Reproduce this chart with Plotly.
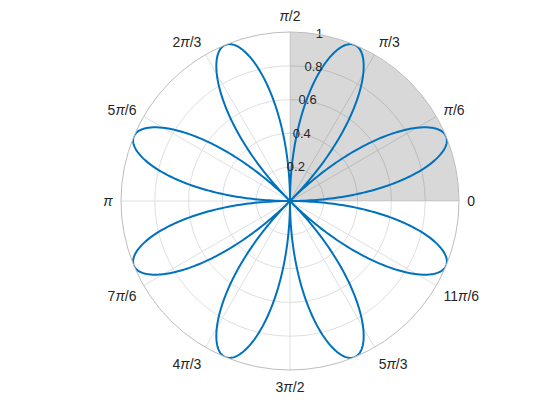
import numpy as np
import plotly.graph_objects as go

# Rose curve r = sin(4*theta), drawn as |r| (same visual petals)
petal_freq = 4
theta_deg = np.linspace(0, 360, 1441)
r_vals = np.abs(np.sin(petal_freq * np.deg2rad(theta_deg)))

angle_ticks = [0, 30, 60, 90, 120, 150, 180, 210, 240, 270, 300, 330]
angle_labels = ["0", "<i>π</i>/6", "<i>π</i>/3", "<i>π</i>/2", "2<i>π</i>/3", "5<i>π</i>/6",
                "<i>π</i>", "7<i>π</i>/6", "4<i>π</i>/3", "3<i>π</i>/2", "5<i>π</i>/3", "11<i>π</i>/6"]
r_ticks = [0.2, 0.4, 0.6, 0.8, 1.0]
r_labels = ["0.2", "0.4", "0.6", "0.8", "1"]
r_label_angle = 80

# shaded sector
sector_r = [1.0]
sector_center = [45]
sector_width = [90]

fig = go.Figure()
fig.add_trace(go.Barpolar(r=sector_r, theta=sector_center, width=sector_width,
                          marker=dict(color="rgba(0,0,0,0.153)", line=dict(width=0)),
                          hoverinfo="skip"))
fig.add_trace(go.Scatterpolar(r=r_vals, theta=theta_deg, mode="lines",
                              line=dict(color="#0072BD", width=2)))
fig.add_trace(go.Scatterpolar(r=r_ticks, theta=[r_label_angle] * len(r_ticks), mode="text",
                              text=r_labels, textposition="middle center",
                              textfont=dict(family="Liberation Sans, Arial", size=13, color="#262626")))

x0, y0 = 113, 58
fig.update_layout(
    width=560, height=420,
    margin=dict(l=0, r=0, t=0, b=0),
    paper_bgcolor="white",
    showlegend=False,
    font=dict(family="Liberation Sans, Arial", size=14, color="#262626"),
    polar=dict(
        domain=dict(x=[x0/560, (x0+338)/560], y=[y0/420, (y0+338)/420]),
        bgcolor="white",
        barmode="overlay",
        angularaxis=dict(direction="counterclockwise", rotation=0,
                         tickmode="array", tickvals=angle_ticks, ticktext=angle_labels,
                         gridcolor="#dfdfdf", gridwidth=1,
                         linecolor="#bdbdbd", linewidth=1, showline=True,
                         ticks="outside", ticklen=5, tickcolor="rgba(0,0,0,0)",
                         tickfont=dict(size=14, color="#262626")),
        radialaxis=dict(range=[0, 1], tickmode="array", tickvals=r_ticks,
                        showticklabels=False, ticks="", showline=False,
                        gridcolor="#dfdfdf", gridwidth=1, angle=r_label_angle),
    ),
)
fig.write_html("out.html")
